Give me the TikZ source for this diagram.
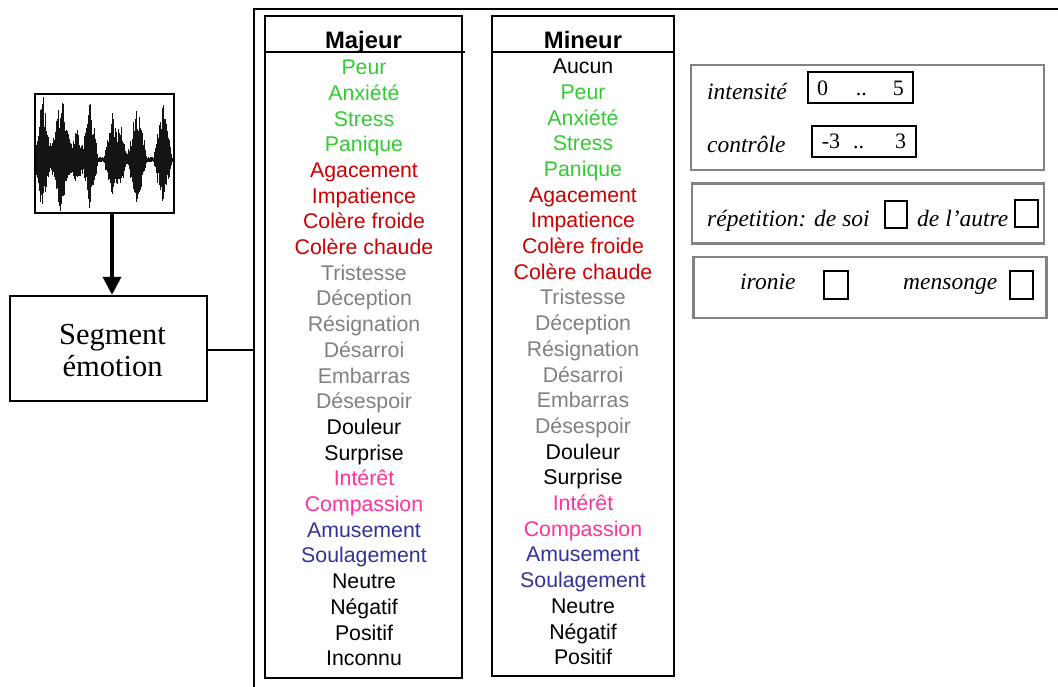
\documentclass[tikz,border=0pt]{standalone}
\usepackage{fontspec}
\setmainfont{Liberation Serif}
\newfontfamily\sansf{Liberation Sans}
\usetikzlibrary{arrows.meta}
\definecolor{cgreen}{RGB}{51,204,51}
\definecolor{cred}{RGB}{204,0,0}
\definecolor{cgray}{RGB}{128,128,128}
\definecolor{cpink}{RGB}{255,51,153}
\definecolor{cblue}{RGB}{51,51,153}
\definecolor{cblack}{RGB}{0,0,0}
\definecolor{panelgray}{RGB}{130,130,130}
\tikzset{
  item/.style={font=\sansf\fontsize{21.3}{24}\selectfont, text height=15.3pt, text depth=0pt, inner sep=0pt},
  head/.style={font=\sansf\bfseries\fontsize{23.8}{26}\selectfont, text height=17pt, text depth=0pt, inner sep=0pt},
  listbox/.style={draw, line width=2.4pt, inner sep=0pt},
  panel/.style={draw=panelgray, line width=2.4pt, inner sep=0pt},
  rangebox/.style={draw, line width=2pt, inner sep=0pt, font=\fontsize{22}{24}\selectfont, text height=15pt, text depth=0pt},
  checkbox/.style={draw, line width=2pt, inner sep=0pt},
  lab/.style={font=\itshape\fontsize{23.5}{28}\selectfont, anchor=base west, inner sep=0pt},
  plainbox/.style={draw, line width=2.4pt, inner sep=0pt},
}
\begin{document}
\begin{tikzpicture}[x=1pt,y=-1pt]
\useasboundingbox (0,0) rectangle (1058,687);
\fill[white] (0,0) rectangle (1058,687);

% waveform
\pgfmathsetseed{11}
\begin{scope}
\clip (35,94) rectangle (174,213);
\foreach \x in {36,36.6,...,173.5} {
  \pgfmathsetmacro\a{3+68*max(0,1-abs(\x-43)/9)+70*max(0,1-abs(\x-61)/11)+30*max(0,1-abs(\x-77)/9)+62*max(0,1-abs(\x-90)/8)+48*max(0,1-abs(\x-112)/8)+34*max(0,1-abs(\x-121)/6)+58*max(0,1-abs(\x-137)/10)+60*max(0,1-abs(\x-163)/9)}
  \pgfmathsetmacro\up{160-\a*(0.5+0.5*rnd)}
  \pgfmathsetmacro\dn{160+\a*0.8*(0.5+0.5*rnd)}
  \draw[line width=1pt, black!92] (\x,\up) -- (\x,\dn);
}
\end{scope}
\node[plainbox, minimum width=139pt, minimum height=119pt] (wave) at (104.5,153.5) {};

% segment box
\node[plainbox, minimum width=197pt, minimum height=105pt,
      font=\fontsize{30.5}{31}\selectfont] (seg) at (108.5,348.5)
  {\hspace*{8pt}\raisebox{-12pt}[0pt][0pt]{\begin{tabular}{@{}c@{}}Segment\\[1.5pt]émotion\end{tabular}}};
\draw[line width=3.5pt, -{Triangle[width=18pt,length=18pt]}] ([xshift=7.5pt]wave.south) -- ([xshift=3.5pt]seg.north);

% outer frame
\draw[line width=2.6pt] (1058,9) -- (254,9) -- (254,687);
\coordinate (fr) at (254,350);
\draw[line width=2pt] (seg.east |- fr) -- (fr);

% Majeur list
\node[listbox, minimum width=197pt, minimum height=662pt] (majbox) at (363.5,347) {};
\draw[line width=2.2pt] (265,52) -- (465,52);
\node[head] (majhead) at (363.5,40.5) {Majeur};
\foreach \t/\c [count=\i] in {Peur/cgreen, Anxiété/cgreen, Stress/cgreen, Panique/cgreen, Agacement/cred, Impatience/cred, Colère froide/cred, Colère chaude/cred, Tristesse/cgray, Déception/cgray, Résignation/cgray, Désarroi/cgray, Embarras/cgray, Désespoir/cgray, Douleur/cblack, Surprise/cblack, Intérêt/cpink, Compassion/cpink, Amusement/cblue, Soulagement/cblue, Neutre/cblack, Négatif/cblack, Positif/cblack, Inconnu/cblack}
  \node[item, text=\c] (maj\i) at (364,{67+(\i-1)*25.7}) {\t};

% Mineur list
\node[listbox, minimum width=182pt, minimum height=660pt] (minbox) at (583,346) {};
\draw[line width=2.2pt] (492,52) -- (674,52);
\node[head] (minhead) at (583,40.5) {Mineur};
\foreach \t/\c [count=\i] in {Aucun/cblack, Peur/cgreen, Anxiété/cgreen, Stress/cgreen, Panique/cgreen, Agacement/cred, Impatience/cred, Colère froide/cred, Colère chaude/cred, Tristesse/cgray, Déception/cgray, Résignation/cgray, Désarroi/cgray, Embarras/cgray, Désespoir/cgray, Douleur/cblack, Surprise/cblack, Intérêt/cpink, Compassion/cpink, Amusement/cblue, Soulagement/cblue, Neutre/cblack, Négatif/cblack, Positif/cblack}
  \node[item, text=\c] (min\i) at (583,{66+(\i-1)*25.7}) {\t};

% right panels
\node[panel, minimum width=353pt, minimum height=105pt] (p1) at (867.5,117.5) {};
\node[panel, minimum width=352pt, minimum height=60pt] (p2) at (868,213.5) {};
\node[panel, minimum width=353pt, minimum height=61pt] (p3) at (870,287.5) {};

\node[lab] (lint) at (707,100) {intensité};
\node[lab] (lctl) at (707,153) {contrôle};
\node[rangebox, minimum width=105pt, minimum height=31pt] (r1) at (860.5,88) {0\hspace{28pt}..\hspace{26pt}5};
\node[rangebox, minimum width=104pt, minimum height=31pt] (r2) at (864,141.5) {-3\hspace{13pt}..\hspace{31pt}3};

\node[lab] (lrep) at (707,227) {répetition: de soi};
\node[checkbox, minimum width=22pt, minimum height=27pt] (cb1) at (896,214.5) {};
\node[lab] (laut) at (917,227) {de l’autre};
\node[checkbox, minimum width=23pt, minimum height=27pt] (cb2) at (1026.5,213.5) {};

\node[lab] (liro) at (740,290) {ironie};
\node[checkbox, minimum width=24pt, minimum height=28pt] (cb3) at (836,285) {};
\node[lab] (lmen) at (903,290) {mensonge};
\node[checkbox, minimum width=23pt, minimum height=28pt] (cb4) at (1021.5,285) {};
\end{tikzpicture}
\end{document}
